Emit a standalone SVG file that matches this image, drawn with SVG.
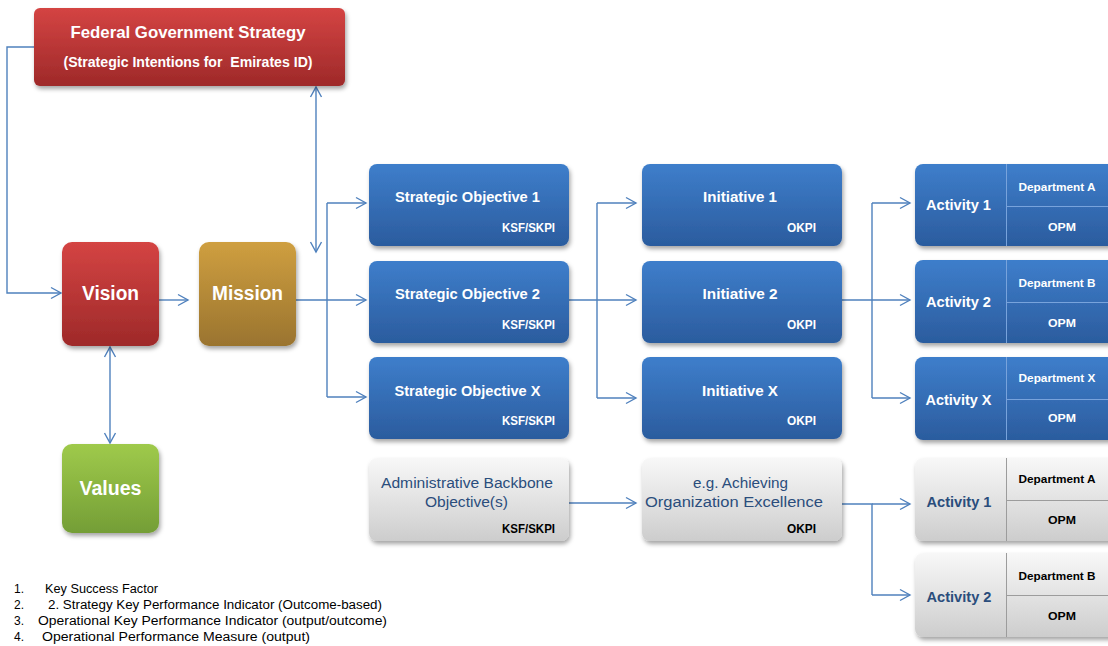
<svg xmlns="http://www.w3.org/2000/svg" width="1108" height="646" viewBox="0 0 1108 646">
<style>
text{font-family:"Liberation Sans",Arial,sans-serif}
.w{fill:#fff;font-weight:bold}
.k{fill:#000;font-weight:bold}
.g{fill:#2a4d7c;font-weight:bold}
.n{fill:#2a4d7c}
.lg{fill:#000;font-size:12px}
.c{fill:none;stroke:#4f81bd;stroke-width:1.4}
.dvb{stroke:#78a3dc;stroke-width:1}
.dvg{stroke:#9c9c9c;stroke-width:1}
</style>
<defs>
<linearGradient id="red" x1="0" y1="0" x2="0" y2="1"><stop offset="0" stop-color="#d44443"/><stop offset="1" stop-color="#9e2929"/></linearGradient>
<linearGradient id="gold" x1="0" y1="0" x2="0" y2="1"><stop offset="0" stop-color="#cf9f40"/><stop offset="1" stop-color="#9a742f"/></linearGradient>
<linearGradient id="green" x1="0" y1="0" x2="0" y2="1"><stop offset="0" stop-color="#9fca4b"/><stop offset="1" stop-color="#749e36"/></linearGradient>
<linearGradient id="blue" x1="0" y1="0" x2="0" y2="1"><stop offset="0" stop-color="#3e7ecb"/><stop offset="1" stop-color="#2b5c9e"/></linearGradient>
<linearGradient id="grey" x1="0" y1="0" x2="0" y2="1"><stop offset="0" stop-color="#f8f8f8"/><stop offset="1" stop-color="#cdcdcd"/></linearGradient>
<filter id="sh" x="-10%" y="-10%" width="125%" height="130%"><feDropShadow dx="1.5" dy="3" stdDeviation="2" flood-color="#000" flood-opacity="0.35"/></filter>
<marker id="ar" markerUnits="userSpaceOnUse" markerWidth="14" markerHeight="14" refX="11" refY="6" orient="auto-start-reverse" viewBox="0 0 14 12"><path d="M1,0.5 L11,6 L1,11.5" fill="none" stroke="#4f81bd" stroke-width="1.4"/></marker>
</defs>

<g id="connectors">
<path class="c" d="M34,47 H7 V293 H61" marker-end="url(#ar)"/>
<path class="c" d="M159,300 H188" marker-end="url(#ar)"/>
<path class="c" d="M110,347 V443" marker-start="url(#ar)" marker-end="url(#ar)"/>
<path class="c" d="M316,87 V252" marker-start="url(#ar)" marker-end="url(#ar)"/>
<path class="c" d="M296,300 H327 M327,203 V397"/>
<path class="c" d="M327,203 H366" marker-end="url(#ar)"/>
<path class="c" d="M327,300 H366" marker-end="url(#ar)"/>
<path class="c" d="M327,397 H366" marker-end="url(#ar)"/>
<path class="c" d="M569,300 H597 M597,203 V398"/>
<path class="c" d="M597,203 H636" marker-end="url(#ar)"/>
<path class="c" d="M597,300 H636" marker-end="url(#ar)"/>
<path class="c" d="M597,398 H636" marker-end="url(#ar)"/>
<path class="c" d="M842,300 H872 M872,203 V398"/>
<path class="c" d="M872,203 H910" marker-end="url(#ar)"/>
<path class="c" d="M872,300 H910" marker-end="url(#ar)"/>
<path class="c" d="M872,398 H910" marker-end="url(#ar)"/>
<path class="c" d="M569,503 H636" marker-end="url(#ar)"/>
<path class="c" d="M842,504 H872 V595"/>
<path class="c" d="M872,504 H910" marker-end="url(#ar)"/>
<path class="c" d="M872,595 H910" marker-end="url(#ar)"/>
</g>

<g id="federal">
<rect x="34" y="8" width="311" height="78" rx="6" fill="url(#red)" filter="url(#sh)"/>
<text class="w" x="188" y="38" font-size="17" text-anchor="middle" textLength="235" lengthAdjust="spacingAndGlyphs">Federal Government Strategy</text>
<text class="w" x="188" y="67" font-size="14" text-anchor="middle" textLength="249" lengthAdjust="spacingAndGlyphs" xml:space="preserve">(Strategic Intentions for  Emirates ID)</text>
</g>

<g id="vision">
<rect x="62" y="242" width="97" height="104" rx="10" fill="url(#red)" filter="url(#sh)"/>
<text class="w" x="110.5" y="300" font-size="20" text-anchor="middle" textLength="57" lengthAdjust="spacingAndGlyphs">Vision</text>
</g>
<g id="mission">
<rect x="199" y="242" width="97" height="104" rx="10" fill="url(#gold)" filter="url(#sh)"/>
<text class="w" x="247.5" y="300" font-size="20" text-anchor="middle" textLength="71" lengthAdjust="spacingAndGlyphs">Mission</text>
</g>
<g id="values">
<rect x="62" y="444" width="97" height="89" rx="10" fill="url(#green)" filter="url(#sh)"/>
<text class="w" x="110.5" y="495" font-size="20" text-anchor="middle" textLength="62" lengthAdjust="spacingAndGlyphs">Values</text>
</g>

<g id="so1">
<rect x="369" y="164" width="200" height="82" rx="8" fill="url(#blue)" filter="url(#sh)"/>
<text class="w" x="467.5" y="202" font-size="14" text-anchor="middle" textLength="145" lengthAdjust="spacingAndGlyphs">Strategic Objective 1</text>
<text class="w" x="555" y="232" font-size="12" text-anchor="end" textLength="53" lengthAdjust="spacingAndGlyphs">KSF/SKPI</text>
</g>
<g id="so2">
<rect x="369" y="261" width="200" height="82" rx="8" fill="url(#blue)" filter="url(#sh)"/>
<text class="w" x="467.5" y="299" font-size="14" text-anchor="middle" textLength="145" lengthAdjust="spacingAndGlyphs">Strategic Objective 2</text>
<text class="w" x="555" y="329" font-size="12" text-anchor="end" textLength="53" lengthAdjust="spacingAndGlyphs">KSF/SKPI</text>
</g>
<g id="sox">
<rect x="369" y="357" width="200" height="82" rx="8" fill="url(#blue)" filter="url(#sh)"/>
<text class="w" x="467.5" y="396" font-size="14" text-anchor="middle" textLength="146" lengthAdjust="spacingAndGlyphs">Strategic Objective X</text>
<text class="w" x="555" y="425" font-size="12" text-anchor="end" textLength="53" lengthAdjust="spacingAndGlyphs">KSF/SKPI</text>
</g>

<g id="init1">
<rect x="642" y="164" width="200" height="82" rx="8" fill="url(#blue)" filter="url(#sh)"/>
<text class="w" x="740" y="202" font-size="14" text-anchor="middle" textLength="74" lengthAdjust="spacingAndGlyphs">Initiative 1</text>
<text class="w" x="816" y="232" font-size="12" text-anchor="end" textLength="29" lengthAdjust="spacingAndGlyphs">OKPI</text>
</g>
<g id="init2">
<rect x="642" y="261" width="200" height="82" rx="8" fill="url(#blue)" filter="url(#sh)"/>
<text class="w" x="740" y="299" font-size="14" text-anchor="middle" textLength="75" lengthAdjust="spacingAndGlyphs">Initiative 2</text>
<text class="w" x="816" y="329" font-size="12" text-anchor="end" textLength="29" lengthAdjust="spacingAndGlyphs">OKPI</text>
</g>
<g id="initx">
<rect x="642" y="357" width="200" height="82" rx="8" fill="url(#blue)" filter="url(#sh)"/>
<text class="w" x="740" y="396" font-size="14" text-anchor="middle" textLength="76" lengthAdjust="spacingAndGlyphs">Initiative X</text>
<text class="w" x="816" y="425" font-size="12" text-anchor="end" textLength="29" lengthAdjust="spacingAndGlyphs">OKPI</text>
</g>

<g id="act1">
<rect x="915" y="164" width="205" height="82" rx="8" fill="url(#blue)" filter="url(#sh)"/>
<path class="dvb" d="M1006.5,164 V246 M1006.5,206.5 H1108"/>
<text class="w" x="958.5" y="210" font-size="15" text-anchor="middle" textLength="65" lengthAdjust="spacingAndGlyphs">Activity 1</text>
<text class="w" x="1057" y="191" font-size="11" text-anchor="middle" textLength="77" lengthAdjust="spacingAndGlyphs">Department A</text>
<text class="w" x="1062" y="231" font-size="11" text-anchor="middle" textLength="28" lengthAdjust="spacingAndGlyphs">OPM</text>
</g>
<g id="act2">
<rect x="915" y="260" width="205" height="83" rx="8" fill="url(#blue)" filter="url(#sh)"/>
<path class="dvb" d="M1006.5,260 V343 M1006.5,302.5 H1108"/>
<text class="w" x="958.5" y="307" font-size="15" text-anchor="middle" textLength="65" lengthAdjust="spacingAndGlyphs">Activity 2</text>
<text class="w" x="1057" y="287" font-size="11" text-anchor="middle" textLength="77" lengthAdjust="spacingAndGlyphs">Department B</text>
<text class="w" x="1062" y="327" font-size="11" text-anchor="middle" textLength="28" lengthAdjust="spacingAndGlyphs">OPM</text>
</g>
<g id="actx">
<rect x="915" y="357" width="205" height="83" rx="8" fill="url(#blue)" filter="url(#sh)"/>
<path class="dvb" d="M1006.5,357 V440 M1006.5,399.5 H1108"/>
<text class="w" x="958.5" y="405" font-size="15" text-anchor="middle" textLength="66" lengthAdjust="spacingAndGlyphs">Activity X</text>
<text class="w" x="1057" y="382" font-size="11" text-anchor="middle" textLength="77" lengthAdjust="spacingAndGlyphs">Department X</text>
<text class="w" x="1062" y="422" font-size="11" text-anchor="middle" textLength="28" lengthAdjust="spacingAndGlyphs">OPM</text>
</g>

<g id="admin">
<rect x="369" y="458" width="200" height="83" rx="8" fill="url(#grey)" filter="url(#sh)"/>
<text class="n" x="467" y="488" font-size="14" text-anchor="middle" textLength="172" lengthAdjust="spacingAndGlyphs">Administrative Backbone</text>
<text class="n" x="466.5" y="507" font-size="14" text-anchor="middle" textLength="83" lengthAdjust="spacingAndGlyphs">Objective(s)</text>
<text class="k" x="555" y="533" font-size="12" text-anchor="end" textLength="53" lengthAdjust="spacingAndGlyphs">KSF/SKPI</text>
</g>
<g id="excellence">
<rect x="642" y="458" width="200" height="83" rx="8" fill="url(#grey)" filter="url(#sh)"/>
<text class="n" x="740.5" y="488" font-size="14" text-anchor="middle" textLength="95" lengthAdjust="spacingAndGlyphs">e.g. Achieving</text>
<text class="n" x="734" y="507" font-size="14" text-anchor="middle" textLength="178" lengthAdjust="spacingAndGlyphs">Organization Excellence</text>
<text class="k" x="816" y="533" font-size="12" text-anchor="end" textLength="29" lengthAdjust="spacingAndGlyphs">OKPI</text>
</g>
<g id="gact1">
<rect x="915" y="458" width="205" height="83" rx="8" fill="url(#grey)" filter="url(#sh)"/>
<path class="dvg" d="M1006.5,458 V541 M1006.5,500.5 H1108"/>
<text class="g" x="959" y="507" font-size="15" text-anchor="middle" textLength="65" lengthAdjust="spacingAndGlyphs">Activity 1</text>
<text class="k" x="1057" y="483" font-size="11" text-anchor="middle" textLength="77" lengthAdjust="spacingAndGlyphs">Department A</text>
<text class="k" x="1062" y="524" font-size="11" text-anchor="middle" textLength="28" lengthAdjust="spacingAndGlyphs">OPM</text>
</g>
<g id="gact2">
<rect x="915" y="553" width="205" height="84" rx="8" fill="url(#grey)" filter="url(#sh)"/>
<path class="dvg" d="M1006.5,553 V637 M1006.5,595.5 H1108"/>
<text class="g" x="959" y="602" font-size="15" text-anchor="middle" textLength="65" lengthAdjust="spacingAndGlyphs">Activity 2</text>
<text class="k" x="1057" y="580" font-size="11" text-anchor="middle" textLength="77" lengthAdjust="spacingAndGlyphs">Department B</text>
<text class="k" x="1062" y="620" font-size="11" text-anchor="middle" textLength="28" lengthAdjust="spacingAndGlyphs">OPM</text>
</g>

<g id="legend">
<text class="lg" x="14" y="593">1.</text>
<text class="lg" x="45" y="593" textLength="113" lengthAdjust="spacingAndGlyphs">Key Success Factor</text>
<text class="lg" x="14" y="609">2.</text>
<text class="lg" x="48" y="609" textLength="334" lengthAdjust="spacingAndGlyphs">2. Strategy Key Performance Indicator (Outcome-based)</text>
<text class="lg" x="14" y="625">3.</text>
<text class="lg" x="38" y="625" textLength="349" lengthAdjust="spacingAndGlyphs">Operational Key Performance Indicator (output/outcome)</text>
<text class="lg" x="14" y="641">4.</text>
<text class="lg" x="42" y="641" textLength="268" lengthAdjust="spacingAndGlyphs">Operational Performance Measure (output)</text>
</g>
</svg>
